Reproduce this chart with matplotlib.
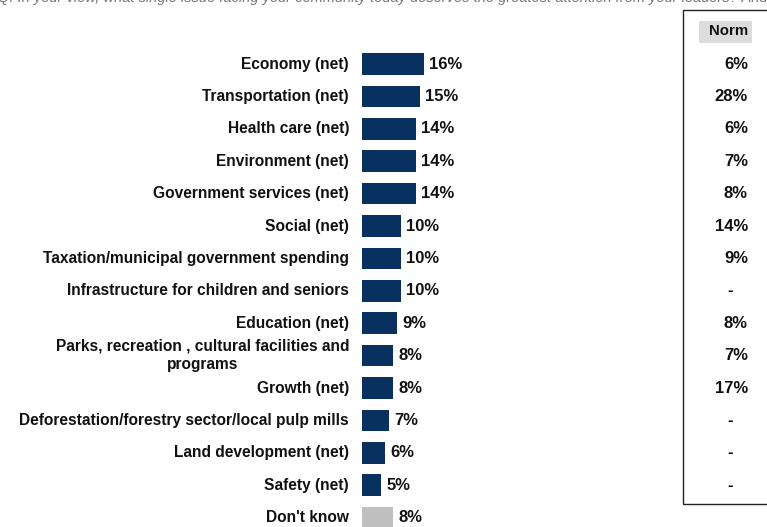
import matplotlib.pyplot as plt
import matplotlib.transforms as mtransforms
from matplotlib.patches import Rectangle

plt.rcParams['font.family'] = ['Liberation Sans', 'DejaVu Sans']

# Survey results: share of mentions per issue, plus the norm comparison
categories = [
    'Economy (net)',
    'Transportation (net)',
    'Health care (net)',
    'Environment (net)',
    'Government services (net)',
    'Social (net)',
    'Taxation/municipal government spending',
    'Infrastructure for children and seniors',
    'Education (net)',
    'Parks, recreation , cultural facilities and\nprograms',
    'Growth (net)',
    'Deforestation/forestry sector/local pulp mills',
    'Land development (net)',
    'Safety (net)',
    "Don't know",
]
values = [16, 15, 14, 14, 14, 10, 10, 10, 9, 8, 8, 7, 6, 5, 8]
norm = ['6%', '28%', '6%', '7%', '8%', '14%', '9%', '-', '8%', '7%', '17%',
        '-', '-', '-', '']

navy = '#08315f'
grey = '#c0c0c0'
ink = '#111111'
colors = [navy] * (len(values) - 1) + [grey]

W, H = 767, 527
fig = plt.figure(figsize=(W / 100, H / 100), dpi=100)

# bar area: 0% sits at x=362px, about 3.85px per percentage point
row0, step = 64, 32.4
ax = fig.add_axes([362 / W, 0, 300 / W, 1])
ax.set_xlim(0, 300 / 3.85)
ax.set_ylim((H - row0) / step, -row0 / step)
ax.axis('off')

ypos = list(range(len(categories)))
ax.barh(ypos, values, height=0.67, color=colors)

lab = mtransforms.blended_transform_factory(fig.transFigure, ax.transData)
for y, cat, v in zip(ypos, categories, values):
    ax.text(349 / W, y, cat, transform=lab, ha='right', va='center',
            multialignment='center', fontsize=11.2, fontweight='bold',
            color=ink, linespacing=1.3)
    ax.text(v + 1.4, y, f'{v}%', ha='left', va='center', fontsize=12,
            fontweight='bold', color=ink)

# norm column
for y, n in zip(ypos, norm):
    if n == '-':
        ax.text(730 / W, y, n, transform=lab, ha='center', va='center',
                fontsize=12, fontweight='bold', color=ink)
    elif n:
        ax.text(748 / W, y, n, transform=lab, ha='right', va='center',
                fontsize=12, fontweight='bold', color=ink)

fig.patches.append(Rectangle((683 / W, 1 - 504 / H), 100 / W, 494 / H,
                             transform=fig.transFigure, fill=False,
                             edgecolor='#222222', linewidth=1))
fig.patches.append(Rectangle((699 / W, 1 - 43 / H), 53 / W, 22 / H,
                             transform=fig.transFigure, facecolor='#dcdcdc',
                             edgecolor='none'))
fig.text(729 / W, 1 - 31 / H, 'Norm', ha='center', va='center',
         fontsize=10.8, fontweight='bold', color=ink)

# question text, running off the top edge
fig.text(-2 / W, 1 - 2 / H,
         'Q. In your view, what single issue facing your community today deserves '
         'the greatest attention from your leaders? And the next most important issue?',
         ha='left', va='baseline', fontsize=10.5, style='italic', color='#777777')

fig.savefig('out.png', dpi=100)
